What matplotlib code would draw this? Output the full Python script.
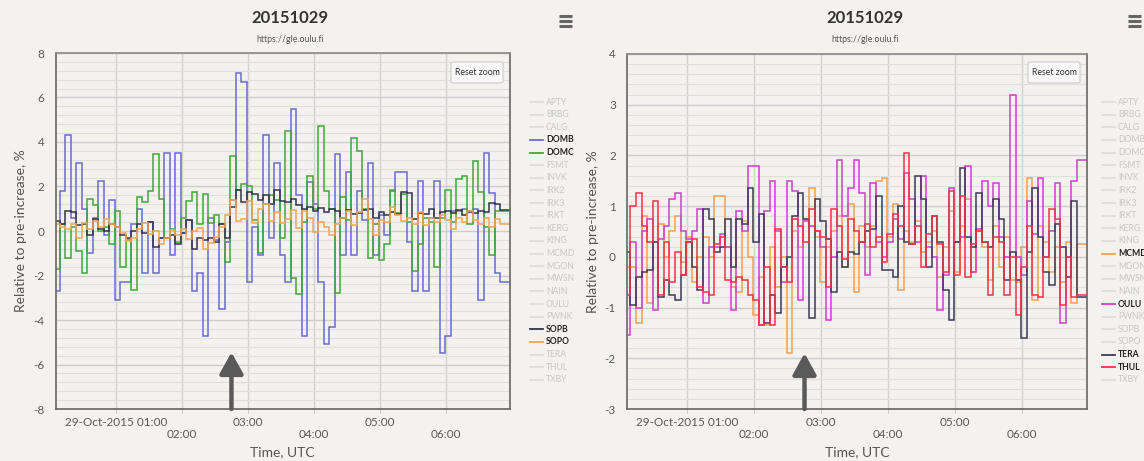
import numpy as np
import matplotlib
matplotlib.use('Agg')
import matplotlib.pyplot as plt
from matplotlib.lines import Line2D
from matplotlib.patches import FancyBboxPatch
from matplotlib.ticker import MultipleLocator

plt.rcParams['font.family'] = ['Lato', 'DejaVu Sans']

# ---------------- data ----------------
stations = ['APTY', 'BRBG', 'CALG', 'DOMB', 'DOMC', 'FSMT', 'INVK', 'IRK2', 'IRK3',
            'IRKT', 'KERG', 'KING', 'MCMD', 'MGON', 'MWSN', 'NAIN', 'OULU', 'PWNK',
            'SOPB', 'SOPO', 'TERA', 'THUL', 'TXBY']
hour_ticks = [60, 120, 180, 240, 300, 360]          # minutes after 00:00 UTC
tick_labels = ['29-Oct-2015 01:00', '\n02:00', '03:00', '\n04:00', '05:00', '\n06:00']
bin_start = 4      # minutes
bin_width = 5      # minutes
title = '20151029'
subtitle = 'https://gle.oulu.fi'
arrow_time = 165   # 02:45

domb = [-2.7, 1.8, 4.3, 0.6, 3.05, 1.0, -1.0, 0.6, 2.25, -0.2, 1.4, -3.1, -2.3, -2.3, 0.3,
        1.0, -1.9, 0.4, -1.9, -0.3, 3.5, -1.1, 3.5, -0.1, 0.5, -2.7, -1.9, -4.7, 0.6, -0.4,
        -3.5, -0.5, 1.4, 7.1, 6.7, -2.3, 0.2, -1.1, 4.3, -0.3, 3.05, -1.1, -2.3, 5.5, 1.6,
        -4.7, 2.2, 1.2, -2.3, -5.1, -4.3, 3.45, -1.1, 2.65, -1.1, 1.8, 0.5, 3.05, -1.1, 0.7,
        -0.2, 1.8, 2.65, 2.65, -0.5, -2.7, 2.25, -2.7, 0.6, 2.25, -5.5, -4.7, 0.9, 0.9, 1.0,
        0.9, 1.0, -3.1, 3.5, 1.7, -1.9, -2.3]
domc = [-1.7, 0.3, -1.2, 0.2, -0.9, -1.9, 1.45, 1.15, 0.0, 0.2, -0.6, 0.9, -1.6, -0.4, -2.65,
        1.55, 1.3, 1.8, 3.45, 1.45, -0.3, 0.1, -0.5, 0.6, 1.35, 1.75, 0.3, 1.65, 0.35, 0.7,
        0.3, -1.4, 3.35, 1.85, 2.1, 2.0, 0.5, -1.0, 1.2, 1.6, 1.4, -0.3, 4.5, -2.1, -2.85,
        0.4, 2.45, 1.0, 4.7, 1.8, 1.0, -2.8, 1.55, 0.5, 4.2, 3.6, 1.0, -1.2, 0.3, -1.3,
        -0.6, 1.85, 0.8, 1.65, 0.4, -1.8, -0.6, 0.6, 0.4, -1.6, 0.6, 1.85, 0.4, 2.35, 2.45,
        0.3, 3.15, 1.75, 0.2, -1.1, 0.9, 0.9]
sopb = [0.45, 0.3, 0.9, 0.85, 0.25, 0.3, -0.2, 0.55, 0.1, 0.0, 0.3, 0.2, -0.2, -0.3, 0.0,
        0.3, -0.1, 0.4, -0.7, -0.3, -0.3, -0.2, -0.6, -0.1, 0.5, -0.8, -0.3, -0.4, -0.3, -0.5,
        0.3, -0.3, 1.1, 1.85, 1.3, 1.75, 1.65, 1.4, 1.6, 1.2, 1.85, 1.35, 1.3, 1.45, 1.15,
        1.0, 1.1, 0.9, 1.05, 0.85, 1.0, 0.9, 0.6, 0.95, 0.75, 0.8, 0.95, 1.0, 0.6, 0.85,
        0.7, 0.85, 0.75, 1.75, 1.7, 0.55, 0.8, 0.75, 1.0, 0.6, 0.85, 0.9, 0.8, 0.95, 0.7,
        0.85, 0.8, 0.9, 0.85, 1.25, 1.2, 0.95]
sopo = [0.3, 0.2, 0.1, 0.3, -0.3, 0.35, 0.1, 0.45, 0.2, 0.55, 0.3, 0.2, -0.1, -0.45, -0.3,
        0.1, 0.35, -0.15, 0.0, -0.6, -0.3, 0.05, -0.2, 0.1, -0.35, 0.0, 0.15, -0.8, -0.55,
        -0.25, 0.2, 0.7, 1.4, 0.45, 0.55, 1.35, 0.35, 1.0, 1.2, 0.45, 0.85, 0.35, 0.55, 0.95,
        0.15, 0.9, 0.6, -0.05, 0.4, 0.2, -0.2, 0.3, 0.6, 0.9, 0.25, 0.85, 1.45, 0.55, -0.2,
        0.5, 0.4, 1.1, 0.7, 0.45, 0.6, 0.3, 0.85, 0.25, 0.6, 0.4, 0.7, 0.5, 0.1, 0.6, 0.4,
        0.9, 0.5, 0.3, 0.6, 0.2, 0.55, 0.3]

mcmd = [-0.2, -0.2, -1.3, 0.8, -0.9, 0.3, 0.65, 0.0, 0.5, 0.8, -0.1, 0.4, -0.5, 0.0, 0.4,
        0.0, 1.2, 1.2, 0.2, -0.6, -0.7, 0.7, 0.0, -1.15, -0.4, -1.35, 0.2, -0.6, 0.0, -1.9,
        0.5, 0.2, 0.75, 1.35, 0.4, -0.5, 0.2, 0.5, 0.8, -0.2, 1.05, -0.7, 0.6, 0.2, 0.6,
        1.5, 1.55, 0.4, 1.05, -0.65, 0.5, 0.3, 0.7, 0.1, 0.3, 0.5, -0.4, 0.2, 0.9, -0.3,
        0.6, 1.15, -0.3, 0.5, 0.2, -0.45, 0.6, -0.2, 0.4, -0.45, -0.5, 0.2, 1.55, -0.85, 0.6,
        0.3, -0.3, 0.2, -0.5, 0.3, -0.9, 0.25]
oulu = [-1.55, 0.3, -1.0, 0.5, 0.75, -1.05, 0.35, 0.6, 1.15, 1.25, 0.5, 0.35, 0.5, 0.95, -0.9,
        0.2, 0.2, 0.45, 0.2, -1.05, 0.9, 0.5, 1.8, 1.8, -1.35, 0.9, 1.5, 0.5, -0.5, 1.5,
        1.3, -0.85, 0.7, 0.6, 0.5, 0.2, -1.25, 0.0, 1.9, 0.8, 1.35, 1.9, 1.25, -0.35, 1.45,
        0.3, 0.0, 0.3, 0.75, 0.35, 1.65, 1.15, 0.3, 1.6, 0.2, 0.0, -1.05, -0.35, 1.35, 0.3,
        0.4, 1.8, -0.3, 0.55, 1.5, 1.0, 1.45, 0.4, 0.0, 3.2, 0.0, -0.35, 1.1, 0.45, 1.55,
        0.0, 0.5, 1.45, -1.3, 0.0, 1.5, 1.9]
tera = [0.1, -0.95, -0.4, -0.3, -0.25, 0.3, -0.8, -0.45, -0.75, -0.85, -0.35, 0.3, -0.2, -0.65,
        0.95, 0.75, 0.1, 0.2, 0.75, -0.2, 0.75, 0.65, 1.35, 0.3, 0.85, -1.3, -0.75, -1.1, -0.2,
        0.0, 0.8, 1.25, 0.75, -1.2, 1.15, 0.7, 0.35, -0.7, 0.1, -0.2, 0.1, 0.05, 0.3, 0.5,
        0.55, 1.2, -0.25, -0.25, -0.4, 1.0, 0.3, 0.25, 1.6, 1.15, -0.2, 0.8, 0.3, -0.65, -1.25,
        0.3, 1.75, 0.4, 0.2, 1.25, 0.3, 0.2, 1.15, 0.75, -0.45, 0.1, -0.45, -1.6, 0.1, 1.35,
        0.4, -0.3, -0.55, 0.65, 0.2, -0.4, 1.1, -0.8]
thul = [-0.75, 1.0, 1.25, 0.6, 0.3, 1.1, -0.75, 0.3, -0.5, 0.1, -0.35, 0.3, 0.35, -0.6, -0.7,
        -0.75, 0.25, 0.4, -0.45, -0.5, -0.4, -0.45, -0.75, -0.85, -1.35, -0.2, -1.35, 0.55,
        -0.2, -0.5, 0.75, 0.6, 0.3, 0.95, 0.5, 0.4, -0.6, 0.95, 0.6, -0.05, 0.75, 0.5, 0.3,
        0.65, 0.2, 0.4, -0.1, 0.45, 0.85, 0.6, 2.05, 0.25, 0.6, -0.2, 0.45, 0.8, 0.25, -0.3,
        1.3, -0.35, 1.2, -0.4, 0.25, 0.5, 0.3, -0.75, 0.4, 0.3, -0.75, 0.0, -1.15, -0.2, 0.6,
        -0.75, -0.8, 0.0, 0.95, 0.75, -0.95, 0.0, -0.8, -0.75]

left_series = [('DOMB', domb), ('DOMC', domc), ('SOPB', sopb), ('SOPO', sopo)]
right_series = [('MCMD', mcmd), ('OULU', oulu), ('TERA', tera), ('THUL', thul)]

colors = {'DOMB': '#6a6ad2', 'DOMC': '#3fa83a', 'SOPB': '#34344a', 'SOPO': '#f4a456',
          'MCMD': '#f4a050', 'OULU': '#cc3fcc', 'TERA': '#3a3a58', 'THUL': '#ee3345'}

# ---------------- figure ----------------
FW, FH = 1144, 461
BG = '#f3f2ef'
fig = plt.figure(figsize=(FW / 100, FH / 100), dpi=100, facecolor=BG)


def fx(x):
    return x / FW


def fy(y):
    return 1 - y / FH


def make_panel(x0, x1, y0, y1, ylim, major, xlim, series, arrow_tip, tcx, ylab_x, legx):
    ax = fig.add_axes([fx(x0), fy(y1), fx(x1) - fx(x0), fy(y0) - fy(y1)])
    ax.set_facecolor(BG)
    ax.set_xlim(*xlim)
    ax.set_ylim(*ylim)
    yt = np.arange(ylim[0], ylim[1] + 0.001, major)
    ax.set_yticks(yt)
    ax.yaxis.set_minor_locator(MultipleLocator(major / 5))
    ax.set_yticklabels([f'{v:g}' for v in yt])
    ax.grid(which='major', axis='y', color='#cdcdcd', lw=1.0)
    ax.grid(which='minor', axis='y', color='#e0dfdc', lw=0.8)
    ax.grid(which='major', axis='x', color='#d2d2d2', lw=1.0)
    ax.set_axisbelow(True)
    ax.set_xticks(hour_ticks)
    ax.set_xticklabels(tick_labels, linespacing=1.05)
    ax.tick_params(axis='x', length=3, color='#cccccc', pad=3, labelsize=8.5,
                   labelcolor='#5a5a5a')
    ax.tick_params(axis='y', which='both', length=0, pad=8, labelsize=8.5,
                   labelcolor='#5a5a5a')
    for s in ax.spines.values():
        s.set_color('#666666')
        s.set_linewidth(1.2)
    ax.spines['top'].set_color('#8a8a8a')

    for name, vals in series:
        edges = bin_start + bin_width * np.arange(len(vals) + 1, dtype=float)
        edges[-1] = max(edges[-1], xlim[1] + 1)
        ax.stairs(vals, edges, baseline=None, color=colors[name], lw=1.1)

    ax.annotate('', xy=(arrow_time, arrow_tip), xytext=(arrow_time, ylim[0]),
                arrowprops=dict(arrowstyle='-|>,head_length=0.65,head_width=0.36',
                                color='#5a5a5a', lw=3.2, shrinkA=0, shrinkB=0,
                                mutation_scale=20))

    h = y1 - y0
    ax.set_ylabel('Relative to pre-increase, %', fontsize=10, color='#555555')
    ax.yaxis.set_label_coords((ylab_x - x0) / (x1 - x0), 0.5)
    ax.set_xlabel('Time, UTC', fontsize=10, color='#555555')
    ax.xaxis.set_label_coords(0.5, (y1 - 446) / h)

    # titles
    fig.text(fx(tcx), fy(18), title, ha='center', va='center', fontsize=12,
             fontweight='bold', color='#333333')
    fig.text(fx(tcx), fy(39), subtitle, ha='center', va='center', fontsize=6.3, color='#555555')

    # reset zoom button
    bx0, bx1 = x1 - 59, x1 - 7
    fig.patches.append(FancyBboxPatch((fx(bx0), fy(83)), fx(bx1) - fx(bx0), fy(62) - fy(83),
                                      boxstyle='round,pad=0,rounding_size=0.003',
                                      transform=fig.transFigure, facecolor='#f8f8f8',
                                      edgecolor='#cccccc', lw=0.8, zorder=5))
    fig.text(fx((bx0 + bx1) / 2), fy(72.5), 'Reset zoom', ha='center', va='center',
             fontsize=6.3, color='#333333', zorder=6)

    # legend
    active = [n for n, _ in series]
    for i, st in enumerate(stations):
        yy = fy(102 + i * 12.63)
        if st in active:
            lc, tc, fw = colors[st], '#222222', 'bold'
        else:
            lc, tc, fw = '#dddddd', '#c8c8c8', 'normal'
        fig.add_artist(Line2D([fx(legx), fx(legx + 13)], [yy, yy], color=lc, lw=1.3,
                              transform=fig.transFigure))
        fig.text(fx(legx + 16), yy, st, ha='left', va='center', fontsize=6.2,
                 color=tc, fontweight=fw)
    return ax


make_panel(55.5, 510, 53, 409, (-8, 8), 2, (5.2, 418), left_series, -5.45, 290, 27, 530)
make_panel(627, 1087, 54, 409, (-3, 4), 1, (6, 418), right_series, -1.9, 865, 599, 1102)

# hamburger menu icons
for hx in (559, 1128):
    for hy in (16, 21, 26):
        fig.add_artist(Line2D([fx(hx), fx(hx + 13)], [fy(hy), fy(hy)], color='#666666',
                              lw=2.2, solid_capstyle='butt', transform=fig.transFigure))

fig.savefig('out.png', dpi=100, facecolor=BG)
